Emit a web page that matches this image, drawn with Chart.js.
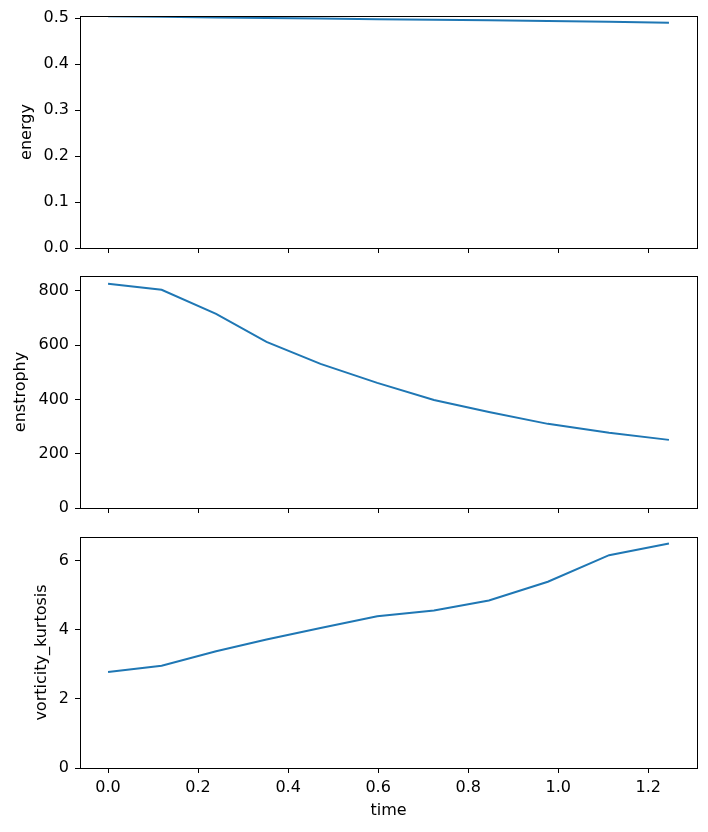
<!DOCTYPE html>
<html>
<head>
<meta charset="utf-8">
<script src="https://cdn.jsdelivr.net/npm/chart.js@4.4.1/dist/chart.umd.min.js"></script>
<style>
  html, body { margin: 0; padding: 0; background: #fff; }
  #wrap { position: relative; width: 708px; height: 832px; }
  .layer { position: absolute; left: 0; top: 0; width: 708px; height: 832px; }
</style>
</head>
<body>
<div id="wrap">
  <div class="layer"><canvas id="c1"></canvas></div>
  <div class="layer"><canvas id="c2"></canvas></div>
  <div class="layer"><canvas id="c3"></canvas></div>
</div>
<script>
// data
const times = [0, 0.119, 0.24, 0.352, 0.472, 0.598, 0.724, 0.846, 0.977, 1.113, 1.246];
const energy = [0.5037, 0.5025, 0.5012, 0.5000, 0.4987, 0.4975, 0.4962, 0.4949, 0.4935, 0.4918, 0.4898];
const enstrophy = [826, 804, 715, 612, 531, 461, 398, 354, 310, 277, 251];
const kurtosis = [2.78, 2.96, 3.38, 3.72, 4.05, 4.39, 4.56, 4.85, 5.39, 6.16, 6.50];

const xTicks = [0, 0.2, 0.4, 0.6, 0.8, 1.0, 1.2];
const energyTicks = [0, 0.1, 0.2, 0.3, 0.4, 0.5];
const enstrophyTicks = [0, 200, 400, 600, 800];
const kurtosisTicks = [0, 2, 4, 6];

const FONT = { family: 'DejaVu Sans', size: 16 };
const BLUE = '#1f77b4';

// matplotlib-like autoscale margin
const tMax = Math.max(...times);
const xMin = -0.05 * tMax;
const xMax = tMax * 1.05;
const topOf = arr => {
    const mx = Math.max(...arr), mn = Math.min(...arr);
    return mx + 0.05 * (mx - mn);
};

// full box around the plot area
const frame = {
    id: 'frame',
    afterDraw(chart) {
        const a = chart.chartArea;
        const ctx = chart.ctx;
        ctx.save();
        ctx.strokeStyle = '#000';
        ctx.lineWidth = 1;
        ctx.strokeRect(Math.round(a.left) + 0.5, Math.round(a.top) + 0.5,
            Math.round(a.right - a.left), Math.round(a.bottom - a.top));
        ctx.restore();
    }
};

function makePanel(id, values, yTicks, yLabel, yFmt, opts) {
    const points = times.map((t, i) => ({ x: t, y: values[i] }));
    return new Chart(document.getElementById(id), {
        type: 'line',
        data: {
            datasets: [{
                data: points,
                borderColor: BLUE,
                borderWidth: 2,
                pointRadius: 0,
                tension: 0,
                fill: false
            }]
        },
        options: {
            responsive: true,
            maintainAspectRatio: false,
            animation: false,
            events: [],
            layout: {
                padding: { left: opts.padLeft, right: 11, top: opts.top, bottom: opts.padBottom }
            },
            plugins: { legend: { display: false }, tooltip: { enabled: false } },
            scales: {
                x: {
                    type: 'linear',
                    min: xMin,
                    max: xMax,
                    afterBuildTicks: s => { s.ticks = xTicks.map(v => ({ value: v })); },
                    afterFit: s => { s.height = opts.xHeight; },
                    border: { display: false },
                    grid: { drawOnChartArea: false, drawTicks: true, tickLength: 5, color: '#000' },
                    ticks: {
                        display: opts.showX,
                        color: '#000',
                        font: FONT,
                        padding: 5,
                        maxRotation: 0,
                        callback: v => v.toFixed(1)
                    },
                    title: {
                        display: opts.showX,
                        text: 'time',
                        color: '#000',
                        font: FONT,
                        padding: 0
                    }
                },
                y: {
                    type: 'linear',
                    min: 0,
                    max: topOf(values),
                    afterBuildTicks: s => { s.ticks = yTicks.map(v => ({ value: v })); },
                    afterFit: s => { s.width = 80 - opts.padLeft; },
                    border: { display: false },
                    grid: { drawOnChartArea: false, drawTicks: true, tickLength: 5, color: '#000' },
                    ticks: {
                        color: '#000',
                        font: FONT,
                        padding: 6,
                        callback: yFmt
                    },
                    title: {
                        display: true,
                        text: yLabel,
                        color: '#000',
                        font: FONT,
                        padding: 0
                    }
                }
            }
        },
        plugins: [frame]
    });
}

makePanel('c1', energy, energyTicks, 'energy', v => v.toFixed(1),
    { padLeft: 17.1, top: 16, xHeight: 20, padBottom: 832 - 248 - 20, showX: false });
makePanel('c2', enstrophy, enstrophyTicks, 'enstrophy', v => String(v),
    { padLeft: 11.1, top: 276, xHeight: 20, padBottom: 832 - 508 - 20, showX: false });
makePanel('c3', kurtosis, kurtosisTicks, 'vorticity_kurtosis', v => String(v),
    { padLeft: 32.4, top: 537, xHeight: 52.5, padBottom: 832 - 768 - 52.5, showX: true });
</script>
</body>
</html>
